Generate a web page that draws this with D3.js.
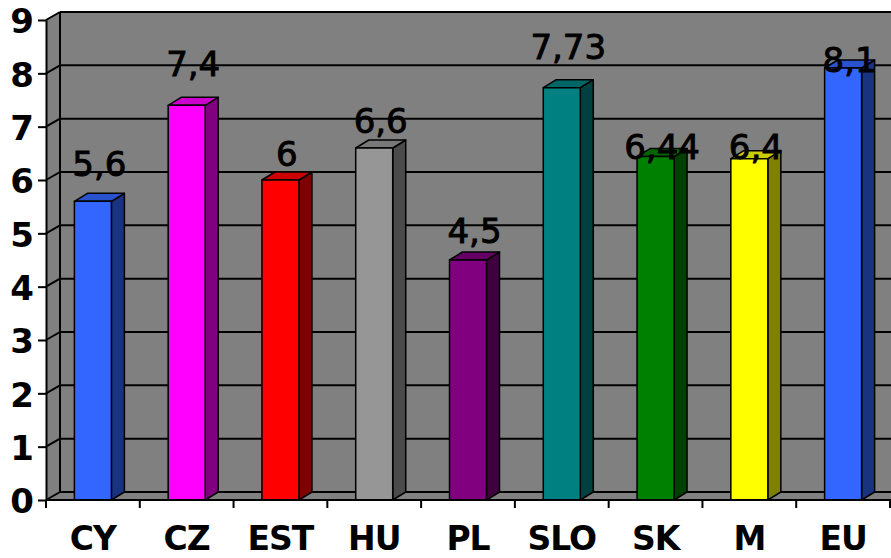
<!DOCTYPE html>
<html>
<head>
<meta charset="utf-8">
<script src="https://cdn.jsdelivr.net/npm/d3@7"></script>
<style>
  html, body { margin: 0; padding: 0; background: #ffffff; }
  svg { display: block; }
</style>
</head>
<body>
<svg id="chart" width="891" height="558"></svg>
<script>
// Chart data
const categories = ["CY", "CZ", "EST", "HU", "PL", "SLO", "SK", "M", "EU"];
const values = [5.6, 7.4, 6, 6.6, 4.5, 7.73, 6.44, 6.4, 8.1];
const valueLabels = ["5,6", "7,4", "6", "6,6", "4,5", "7,73", "6,44", "6,4", "8,1"];
const yTicks = [0, 1, 2, 3, 4, 5, 6, 7, 8, 9];

// Face colours of each column (front face)
const barColors = ["#3366FF", "#FF00FF", "#FF0000", "#969696", "#800080",
                   "#008080", "#008000", "#FFFF00", "#3366FF"];
// Vertical lift of each value label above its column top (px)
const labelLift = [25, 29, 14, 15, 17, 29, -2, 0, -4];

(function () {
  const svg = d3.select("#chart");
  const W = 891;

  // Front plane geometry and 3D depth offsets
  const pLeft = 46, pRight = 890, pBottom = 500, pTop = 20;
  const DX = 14, DY = -8;       // wall depth
  const BDX = 13, BDY = -8;     // column depth

  const x = d3.scaleBand().domain(categories).range([pLeft, pRight]);
  const y = d3.scaleLinear().domain([0, 9]).range([pBottom, pTop]);
  const barW = 37;

  const wallFill = "#808080";
  const ink = "#000000";

  // Back wall
  svg.append("rect")
    .attr("x", pLeft + DX).attr("y", y(9) + DY)
    .attr("width", W + 20 - (pLeft + DX)).attr("height", y(0) - y(9))
    .attr("fill", wallFill);

  // Side wall
  svg.append("polygon")
    .attr("points", [[pLeft, y(9)], [pLeft + DX, y(9) + DY], [pLeft + DX, y(0) + DY], [pLeft, y(0)]].join(" "))
    .attr("fill", wallFill);

  // Floor
  svg.append("polygon")
    .attr("points", [[pLeft, y(0)], [pLeft + DX, y(0) + DY], [W + 20, y(0) + DY], [W + 20, y(0)]].join(" "))
    .attr("fill", wallFill);

  // Gridlines on back wall and side wall
  const grid = svg.append("g").attr("stroke", ink).attr("stroke-width", 2).attr("fill", "none");
  yTicks.forEach(t => {
    grid.append("line")
      .attr("x1", pLeft + DX).attr("x2", W + 20)
      .attr("y1", y(t) + DY).attr("y2", y(t) + DY);
    grid.append("line")
      .attr("x1", pLeft).attr("x2", pLeft + DX)
      .attr("y1", y(t)).attr("y2", y(t) + DY);
  });
  // Inner corner of walls
  grid.append("line")
    .attr("x1", pLeft + DX).attr("x2", pLeft + DX)
    .attr("y1", y(9) + DY).attr("y2", y(0) + DY);

  // Columns
  const bars = svg.append("g").attr("stroke", ink).attr("stroke-width", 1.5).attr("stroke-linejoin", "round");
  categories.forEach((c, i) => {
    const base = d3.rgb(barColors[i]);
    const x0 = x(c) + (x.bandwidth() - barW) / 2;
    const x1 = x0 + barW;
    const yt = y(values[i]);
    const yb = y(0);
    // side face
    bars.append("polygon")
      .attr("points", [[x1, yt], [x1 + BDX, yt + BDY], [x1 + BDX, yb + BDY], [x1, yb]].join(" "))
      .attr("fill", d3.rgb(base.r * 0.5, base.g * 0.5, base.b * 0.5).formatHex());
    // top face
    bars.append("polygon")
      .attr("points", [[x0, yt], [x0 + BDX, yt + BDY], [x1 + BDX, yt + BDY], [x1, yt]].join(" "))
      .attr("fill", d3.rgb(base.r * 0.8, base.g * 0.8, base.b * 0.8).formatHex());
    // front face
    bars.append("rect")
      .attr("x", x0).attr("y", yt)
      .attr("width", barW).attr("height", yb - yt)
      .attr("fill", base.formatHex());
  });

  // Y axis
  const yAxis = svg.append("g")
    .attr("transform", `translate(${pLeft},0)`)
    .call(d3.axisLeft(y).tickValues(yTicks).tickSize(8).tickSizeOuter(0).tickPadding(4).tickFormat(d3.format("d")));
  yAxis.select(".domain").attr("stroke", ink).attr("stroke-width", 2);
  yAxis.selectAll(".tick line").attr("stroke", ink).attr("stroke-width", 2);
  yAxis.selectAll(".tick text")
    .attr("fill", ink)
    .attr("dy", "0.38em")
    .style("font-family", "'DejaVu Sans', sans-serif")
    .style("font-weight", "bold")
    .style("font-size", "34px");

  // X axis line along the floor front edge
  svg.append("line")
    .attr("x1", pLeft).attr("x2", W + 20)
    .attr("y1", y(0)).attr("y2", y(0))
    .attr("stroke", ink).attr("stroke-width", 2);

  // Tick marks at category boundaries
  const bounds = categories.map(c => x(c)).concat([x(categories[categories.length - 1]) + x.step()]);
  svg.append("g").selectAll("line").data(bounds).join("line")
    .attr("x1", d => d).attr("x2", d => d)
    .attr("y1", y(0)).attr("y2", y(0) + 8)
    .attr("stroke", ink).attr("stroke-width", 2);

  // Category labels
  const xAxis = svg.append("g")
    .attr("transform", `translate(0,${y(0)})`)
    .call(d3.axisBottom(x).tickSize(0).tickPadding(27));
  xAxis.select(".domain").remove();
  xAxis.selectAll(".tick text")
    .attr("fill", ink)
    .style("font-family", "'DejaVu Sans', sans-serif")
    .style("font-weight", "bold")
    .style("font-size", "33px")
    .style("letter-spacing", "-1px");

  // Value labels
  svg.append("g").selectAll("text").data(categories).join("text")
    .attr("x", (c) => x(c) + x.bandwidth() / 2 + BDX / 2)
    .attr("y", (c, i) => y(values[i]) - labelLift[i])
    .attr("text-anchor", "middle")
    .attr("fill", ink)
    .attr("stroke", ink)
    .attr("stroke-width", 0.9)
    .style("font-family", "'DejaVu Sans', sans-serif")
    .style("font-size", "34px")
    .text((c, i) => valueLabels[i]);
})();
</script>
</body>
</html>
